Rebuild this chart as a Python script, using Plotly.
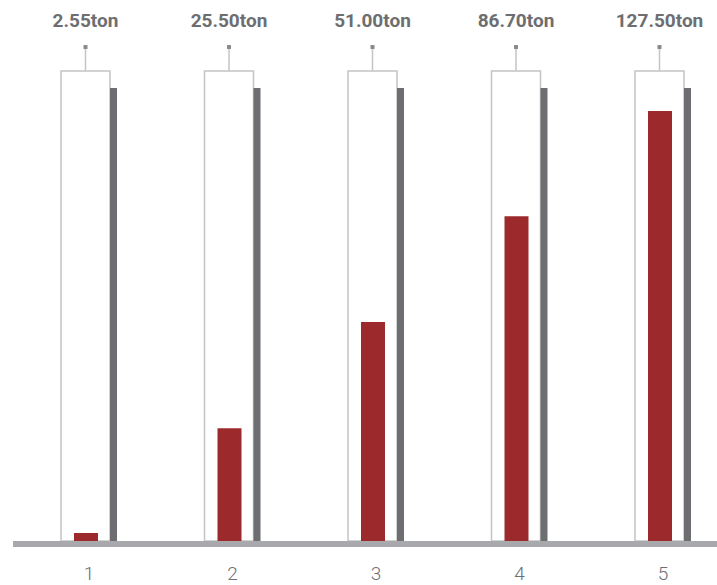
import plotly.graph_objects as go

# Data
categories = [1, 2, 3, 4, 5]
tick_labels = ["1", "2", "3", "4", "5"]
capacity_labels = ["2.55ton", "25.50ton", "51.00ton", "86.70ton", "127.50ton"]
capacity = [100, 100, 100, 100, 100]          # full container height
reference_level = [96.4, 96.4, 96.4, 96.4, 96.4]  # dark side bar
fill_level = [1.7, 24.0, 46.6, 69.1, 91.5]     # red fill

RED = "#9c2a2c"
DARK = "#6d6e71"
BASE = "#a7a9ac"
OUTLINE = "#c4c4c4"

PX = 1 / 143.5  # x units per pixel (category spacing 143.5 px)

fig = go.Figure()

# container boxes
fig.add_trace(go.Bar(
    x=categories, y=capacity, offset=-28 * PX, width=49 * PX,
    marker=dict(color="white", line=dict(color=OUTLINE, width=1.5)),
    hoverinfo="skip", showlegend=False,
))
# dark side bars
fig.add_trace(go.Bar(
    x=categories, y=reference_level, offset=21 * PX, width=7 * PX,
    marker=dict(color=DARK, line=dict(width=0)),
    hoverinfo="skip", showlegend=False,
))
# red fill bars
fig.add_trace(go.Bar(
    x=categories, y=fill_level, offset=-15 * PX, width=24 * PX,
    marker=dict(color=RED, line=dict(width=0)),
    showlegend=False,
))

# stems with a small square marker on top of each box
stem_x = [c - 3.5 * PX for c in categories]
for sx, cap in zip(stem_x, capacity):
    fig.add_trace(go.Scatter(
        x=[sx, sx], y=[cap, cap + 5.1], mode="lines",
        line=dict(color=OUTLINE, width=1.5),
        hoverinfo="skip", showlegend=False,
    ))
fig.add_trace(go.Scatter(
    x=stem_x, y=[c + 5.1 for c in capacity], mode="markers",
    marker=dict(symbol="square", size=4, color="#8a8a8d"),
    hoverinfo="skip", showlegend=False,
))
# capacity labels
fig.add_trace(go.Scatter(
    x=stem_x, y=[c + 10.4 for c in capacity], mode="text",
    text=capacity_labels,
    textfont=dict(family="Roboto", size=19, color=DARK, weight="bold"),
    hoverinfo="skip", showlegend=False,
))

fig.update_layout(
    width=717, height=585,
    margin=dict(l=13, r=0, t=0, b=44),
    paper_bgcolor="white", plot_bgcolor="white",
    barmode="overlay",
    xaxis=dict(
        range=[1 - 76 * PX, 1 + 628 * PX],
        tickmode="array", tickvals=categories, ticktext=tick_labels,
        tickfont=dict(family="Roboto", size=19, color=DARK, weight=300),
        showgrid=False, zeroline=False,
        showline=True, linecolor=BASE, linewidth=6,
        ticks="", ticklabelstandoff=10,
    ),
    yaxis=dict(
        range=[0, 541 / 4.7], visible=False, showgrid=False, zeroline=False,
    ),
)

fig.write_html("out.html")
